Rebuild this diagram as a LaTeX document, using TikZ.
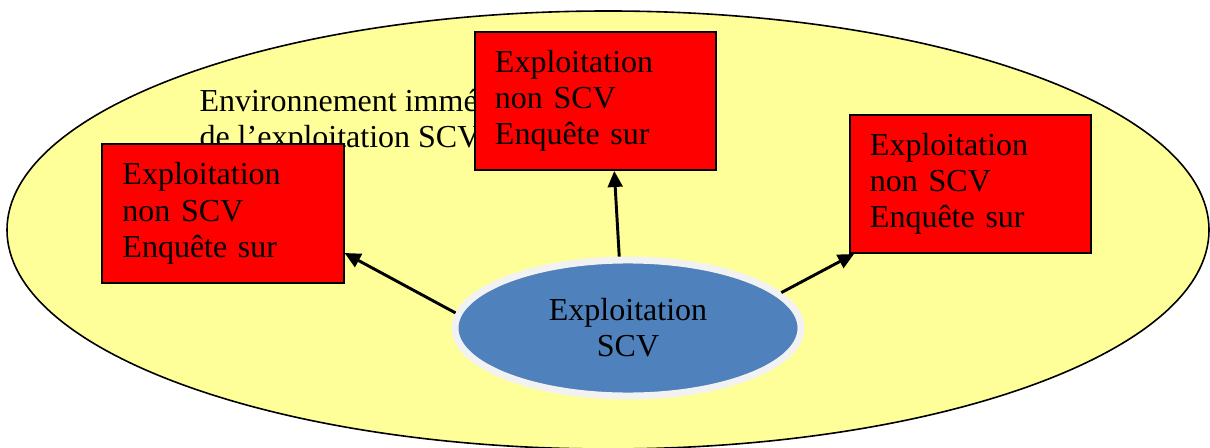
\documentclass[tikz,border=0pt]{standalone}
\usepackage{fontspec}
\setmainfont{Liberation Serif}
\usetikzlibrary{shapes.geometric,arrows.meta}

\definecolor{envyellow}{HTML}{FFFF99}
\definecolor{scvblue}{HTML}{4F81BD}
\definecolor{scvring}{HTML}{F2F2F2}

\begin{document}
\begin{tikzpicture}[x=0.375pt, y=-0.375pt,
  farmbox/.style={draw, line width=0.75pt, fill=red, rectangle, inner xsep=7.5pt, inner ysep=0pt,
    minimum width=90.4pt, minimum height=51.75pt, text width=75.4pt, align=left, font=\fontsize{12}{13.6}\selectfont},
  scvnode/.style={draw=scvring, line width=2.6pt, fill=scvblue, ellipse, inner sep=0pt,
    minimum width=129.75pt, minimum height=51pt, align=center, font=\fontsize{12}{13.6}\selectfont},
  arr/.style={-{Triangle[length=6pt, width=5.5pt]}, line width=1.1pt}]
\useasboundingbox (0,0) rectangle (1210,448);

% environnement
\draw[fill=envyellow, line width=0.6pt] (608,230) ellipse [x radius=601, y radius=219];
\node[anchor=base west, align=left, inner sep=0pt, font=\fontsize{12}{13.6}\selectfont] (envlabel) at (199,148)
  {Environnement imm\'ediat\\de l'exploitation SCV};

% exploitations enquetees
\node[farmbox] (leftfarm) at (223,213.5) {Exploitation\\non SCV\\Enqu\^ete sur};
\node[farmbox] (topfarm) at (595.5,101) {Exploitation\\non SCV\\Enqu\^ete sur};
\node[farmbox] (rightfarm) at (970.5,184) {Exploitation\\non SCV\\Enqu\^ete sur};

\node[scvnode] (scv) at (628,328) {Exploitation\\SCV};

\draw[arr] (scv.97) -- (topfarm.285);
\draw[arr] (scv.175) -- (leftfarm.342);
\draw[arr] (scv.13) -- (rightfarm.211);

\end{tikzpicture}
\end{document}
